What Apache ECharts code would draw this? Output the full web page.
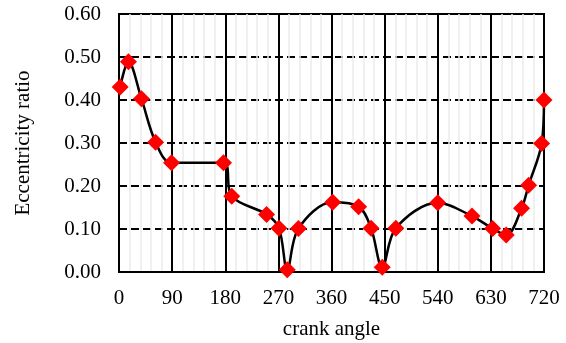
<!DOCTYPE html>
<html>
<head>
<meta charset="utf-8">
<script src="https://cdn.jsdelivr.net/npm/echarts@6/dist/echarts.min.js"></script>
<style>
  html, body { margin: 0; padding: 0; background: #fff; }
  #chart { width: 566px; height: 343px; }
</style>
</head>
<body>
<div id="chart"></div>
<script>
// Crank angle (deg) and eccentricity ratio over one engine cycle
const crankAngle = [2, 16, 38, 62, 89, 177, 191, 250, 271, 285, 304, 362, 406, 427, 446, 469, 540, 598, 633, 656, 682, 694, 716, 720];
const eccentricity = [0.430, 0.489, 0.403, 0.302, 0.254, 0.254, 0.176, 0.134, 0.102, 0.005, 0.101, 0.162, 0.152, 0.102, 0.011, 0.102, 0.161, 0.130, 0.101, 0.086, 0.148, 0.202, 0.299, 0.400];
const xTicks = [0, 90, 180, 270, 360, 450, 540, 630, 720];
const yTicks = [0, 0.1, 0.2, 0.3, 0.4, 0.5, 0.6];

const points = crankAngle.map((a, i) => [a, eccentricity[i]]);
const font = '"Liberation Serif", "Times New Roman", serif';

const chart = echarts.init(document.getElementById('chart'), null, { renderer: 'canvas' });
chart.setOption({
  animation: false,
  backgroundColor: '#ffffff',
  grid: {
    left: 119, right: 22, top: 14, bottom: 71,
    outerBoundsMode: 'none', containLabel: false,
    show: true, borderColor: '#000', borderWidth: 2, backgroundColor: 'transparent'
  },
  xAxis: {
    type: 'value',
    min: xTicks[0], max: xTicks[xTicks.length - 1], interval: 90,
    name: 'crank angle', nameLocation: 'middle', nameGap: 47,
    nameTextStyle: { fontFamily: font, fontSize: 21, color: '#000' },
    axisLine: { show: true, lineStyle: { color: '#000', width: 2 } },
    axisTick: { show: false },
    axisLabel: { fontFamily: font, fontSize: 21, color: '#000', margin: 16 },
    splitLine: { show: true, lineStyle: { color: '#000', width: 2, type: 'solid' } },
    minorTick: { show: false, splitNumber: 5 },
    minorSplitLine: { show: true, lineStyle: { color: '#ececec', width: 1.5 } }
  },
  yAxis: {
    type: 'value',
    min: yTicks[0], max: yTicks[yTicks.length - 1], interval: 0.1,
    name: 'Eccentricity ratio', nameLocation: 'middle', nameGap: 85,
    nameTextStyle: { fontFamily: font, fontSize: 21, color: '#000' },
    axisLine: { show: true, lineStyle: { color: '#000', width: 2 } },
    axisTick: { show: false },
    axisLabel: { fontFamily: font, fontSize: 21, color: '#000', margin: 18,
      formatter: v => v.toFixed(2) },
    splitLine: { show: true, lineStyle: { color: '#000', width: 2, type: [8, 4] } }
  },
  series: [{
    type: 'line',
    data: points,
    smooth: 0.35,
    lineStyle: { color: '#000', width: 2.5 },
    symbol: 'diamond',
    symbolSize: 17,
    itemStyle: { color: '#ff0000', borderWidth: 0 },
    z: 5
  }]
});
</script>
</body>
</html>
